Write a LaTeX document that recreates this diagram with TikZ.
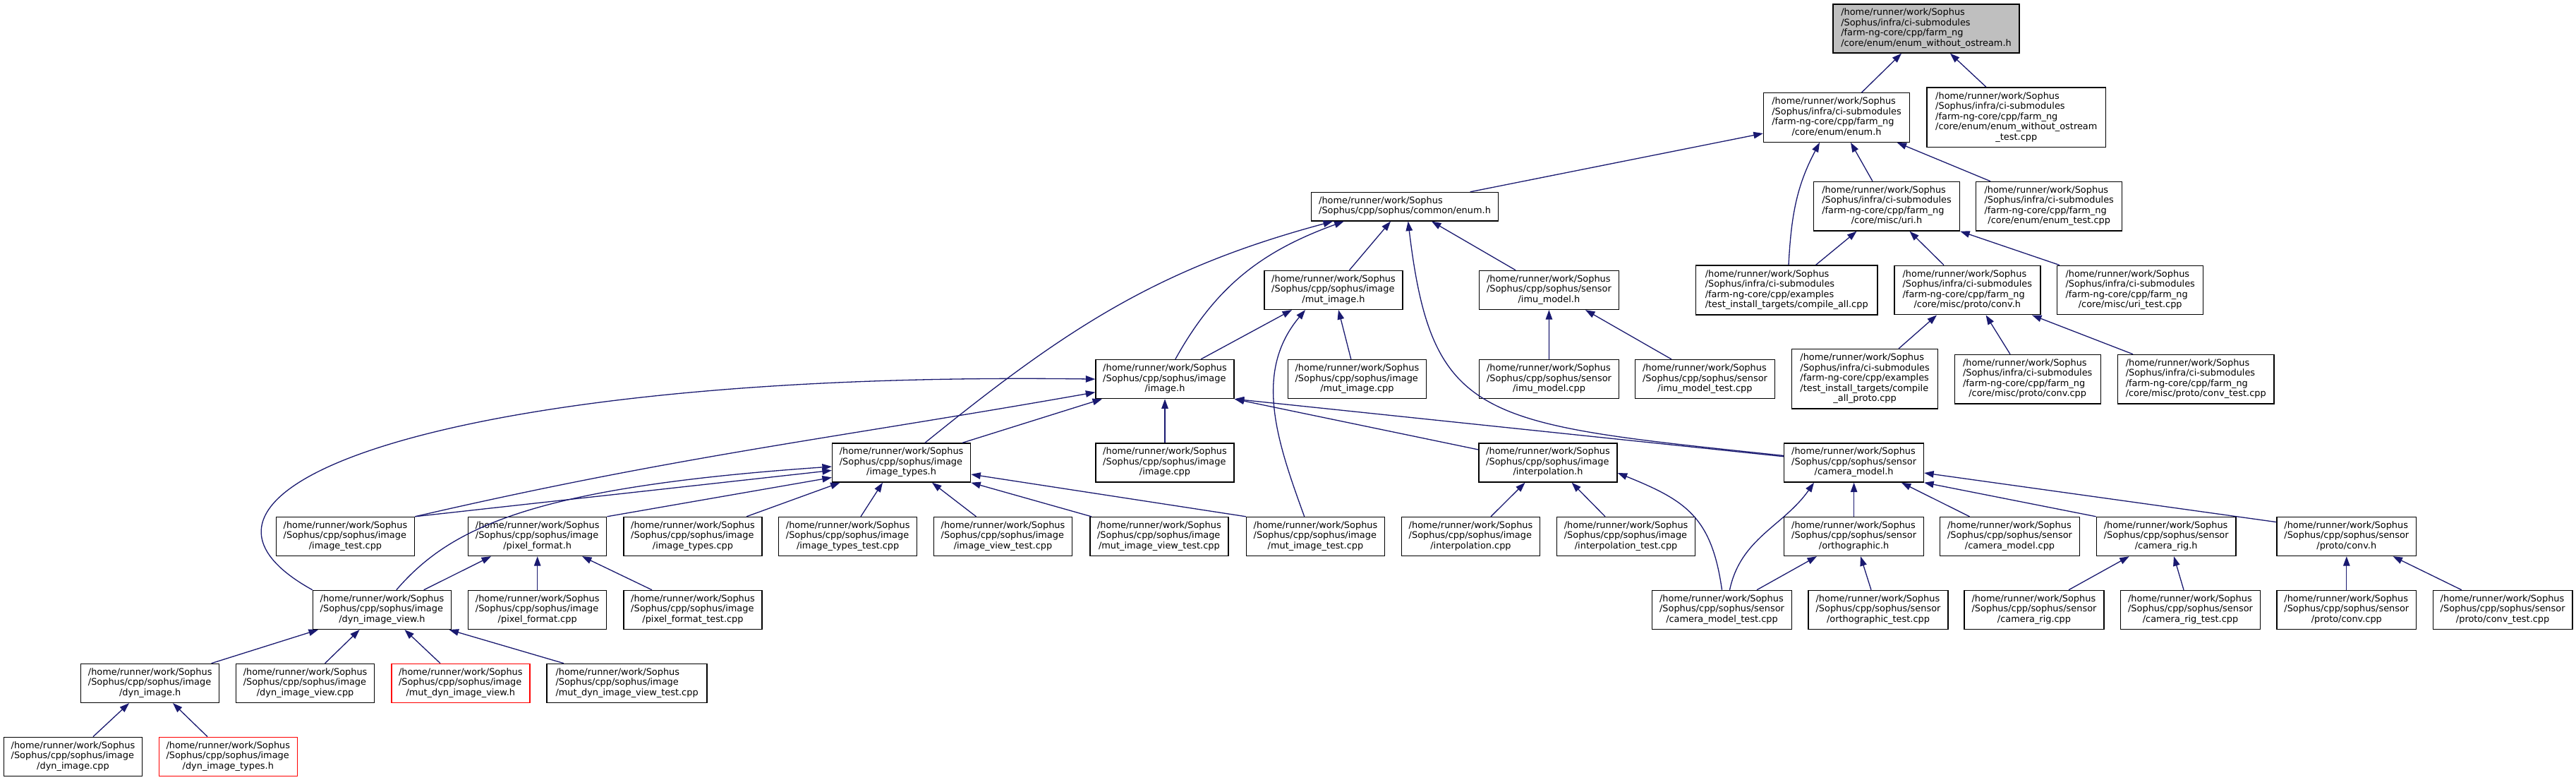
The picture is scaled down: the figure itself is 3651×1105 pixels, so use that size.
\documentclass[tikz,border=0pt]{standalone}
\usepackage{fontspec}
\setmainfont{DejaVu Sans}
\usepackage{xcolor}
\usepackage{tikz}
\usetikzlibrary{arrows.meta}
\definecolor{edgeblue}{HTML}{191970}
\definecolor{rootgray}{HTML}{BFBFBF}
\tikzstyle{edge} = [draw=edgeblue, line width=1.3pt, -{Triangle[length=13.5pt,width=9.5pt]}]
\newcommand{\filelabel}[2]{\begin{tabular}{@{}l@{}}#1\\\multicolumn{1}{@{}c@{}}{#2}\end{tabular}}
\newcommand{\imgfile}[1]{\filelabel{/home/runner/work/Sophus\\/Sophus/cpp/sophus/image}{#1}}
\newcommand{\senfile}[1]{\filelabel{/home/runner/work/Sophus\\/Sophus/cpp/sophus/sensor}{#1}}
\newcommand{\farmfile}[1]{\filelabel{/home/runner/work/Sophus\\/Sophus/infra/ci-submodules\\/farm-ng-core/cpp/farm\_ng}{#1}}

\begin{document}
\begin{tikzpicture}[x=1pt, y=-1pt,
    filebox/.style={rectangle, draw=black, line width=1.4pt, fill=white, inner sep=0pt,
                    font=\fontsize{12.9}{14.5}\selectfont},
    imgbox/.style={filebox, minimum width=196pt, minimum height=55pt},
    senbox/.style={filebox, minimum width=197.7pt, minimum height=55pt},
    farmbox/.style={filebox, minimum width=207pt, minimum height=69.5pt}
]
  \path[use as bounding box, fill=white] (0,0) rectangle (3651,1105);

  % --- farm-ng-core ---
  \node[filebox, fill=rootgray, minimum width=264pt, minimum height=69pt] (root) at (2730,40.5) {\farmfile{/core/enum/enum\_without\_ostream.h}};
  \node[farmbox] (enumh) at (2603,166.5) {\farmfile{/core/enum/enum.h}};
  \node[filebox, minimum width=253.5pt, minimum height=84.6pt] (ewottest) at (2857.8,166.3)
    {\filelabel{/home/runner/work/Sophus\\/Sophus/infra/ci-submodules\\/farm-ng-core/cpp/farm\_ng\\/core/enum/enum\_without\_ostream}{\_test.cpp}};
  \node[farmbox] (urih)     at (2674,292.2)   {\farmfile{/core/misc/uri.h}};
  \node[farmbox] (enumtest) at (2904.2,292.2) {\farmfile{/core/enum/enum\_test.cpp}};
  \node[filebox, minimum width=257.5pt, minimum height=70pt] (compileall) at (2532.2,411)
    {\filelabel{/home/runner/work/Sophus\\/Sophus/infra/ci-submodules\\/farm-ng-core/cpp/examples}{/test\_install\_targets/compile\_all.cpp}};
  \node[farmbox] (fconvh)   at (2788.3,411)   {\farmfile{/core/misc/proto/conv.h}};
  \node[farmbox] (uritest)  at (3019.2,411)   {\farmfile{/core/misc/uri\_test.cpp}};
  \node[filebox, minimum width=207pt, minimum height=84.4pt] (compileproto) at (2643.1,536.8)
    {\filelabel{/home/runner/work/Sophus\\/Sophus/infra/ci-submodules\\/farm-ng-core/cpp/examples\\/test\_install\_targets/compile}{\_all\_proto.cpp}};
  \node[farmbox] (fconvcpp) at (2873.7,537.2) {\farmfile{/core/misc/proto/conv.cpp}};
  \node[farmbox, minimum width=221.5pt] (fconvtest) at (3112.2,537.2) {\farmfile{/core/misc/proto/conv\_test.cpp}};

  % --- sophus common, mut_image, imu ---
  \node[filebox, minimum width=264.6pt, minimum height=40.4pt] (commonenum) at (1991,292.7)
    {\filelabel{/home/runner/work/Sophus}{/Sophus/cpp/sophus/common/enum.h}};
  \node[imgbox] (mutimageh)   at (1890,410.9)   {\imgfile{/mut\_image.h}};
  \node[senbox] (imuh)        at (2195.4,410.9) {\senfile{/imu\_model.h}};
  \node[imgbox] (imageh)      at (1651,537.1)   {\imgfile{/image.h}};
  \node[imgbox] (mutimagecpp) at (1923.4,537.1) {\imgfile{/mut\_image.cpp}};
  \node[senbox] (imucpp)      at (2195.5,537.1) {\senfile{/imu\_model.cpp}};
  \node[senbox] (imutest)     at (2416.5,537.1) {\senfile{/imu\_model\_test.cpp}};

  % --- image / sensor headers ---
  \node[imgbox] (imagetypesh)  at (1277.6,655.5) {\imgfile{/image\_types.h}};
  \node[imgbox] (imagecpp)     at (1651,655.5)   {\imgfile{/image.cpp}};
  \node[imgbox] (interph)      at (2194,655.5)   {\imgfile{/interpolation.h}};
  \node[senbox] (cameramodelh) at (2627.6,655.5) {\senfile{/camera\_model.h}};

  \node[imgbox] (imagetest)        at (489.5,760)  {\imgfile{/image\_test.cpp}};
  \node[imgbox] (pixelformath)     at (761.7,760)  {\imgfile{/pixel\_format.h}};
  \node[imgbox] (imagetypescpp)    at (982,760)    {\imgfile{/image\_types.cpp}};
  \node[imgbox] (imagetypestest)   at (1201.7,760) {\imgfile{/image\_types\_test.cpp}};
  \node[imgbox] (imageviewtest)    at (1421.5,760) {\imgfile{/image\_view\_test.cpp}};
  \node[imgbox] (mutimageviewtest) at (1642.9,760) {\imgfile{/mut\_image\_view\_test.cpp}};
  \node[imgbox] (mutimagetest)     at (1864.5,760) {\imgfile{/mut\_image\_test.cpp}};
  \node[imgbox] (interpcpp)        at (2084.5,760) {\imgfile{/interpolation.cpp}};
  \node[imgbox] (interptest)       at (2304.6,760) {\imgfile{/interpolation\_test.cpp}};
  \node[senbox] (orthoh)           at (2627.6,760) {\senfile{/orthographic.h}};
  \node[senbox] (cameramodelcpp)   at (2848.5,760) {\senfile{/camera\_model.cpp}};
  \node[senbox] (camerarigh)       at (3070.2,760) {\senfile{/camera\_rig.h}};
  \node[senbox] (sconvh)           at (3325.8,760) {\senfile{/proto/conv.h}};

  \node[imgbox] (dynviewh)        at (541.5,863.9)  {\imgfile{/dyn\_image\_view.h}};
  \node[imgbox] (pixelformatcpp)  at (761.7,863.9)  {\imgfile{/pixel\_format.cpp}};
  \node[imgbox] (pixelformattest) at (982,863.9)    {\imgfile{/pixel\_format\_test.cpp}};
  \node[senbox] (cameramodeltest) at (2440.5,863.9) {\senfile{/camera\_model\_test.cpp}};
  \node[senbox] (orthotest)       at (2662,863.9)   {\senfile{/orthographic\_test.cpp}};
  \node[senbox] (camerarigcpp)    at (2883,863.9)   {\senfile{/camera\_rig.cpp}};
  \node[senbox] (camerarigtest)   at (3104.5,863.9) {\senfile{/camera\_rig\_test.cpp}};
  \node[senbox] (sconvcpp)        at (3325.8,863.9) {\senfile{/proto/conv.cpp}};
  \node[senbox] (sconvtest)       at (3547.1,863.9) {\senfile{/proto/conv\_test.cpp}};

  \node[imgbox] (dynimageh)      at (212.7,967.9) {\imgfile{/dyn\_image.h}};
  \node[imgbox] (dynviewcpp)     at (432.6,967.9) {\imgfile{/dyn\_image\_view.cpp}};
  \node[imgbox, draw=red] (mutdynviewh) at (652.8,967.9) {\imgfile{/mut\_dyn\_image\_view.h}};
  \node[imgbox, minimum width=227pt] (mutdynviewtest) at (888.6,967.9) {\imgfile{/mut\_dyn\_image\_view\_test.cpp}};
  \node[imgbox] (dynimagecpp)    at (103.5,1071.8) {\imgfile{/dyn\_image.cpp}};
  \node[imgbox, draw=red] (dynimagetypesh) at (323.3,1071.8) {\imgfile{/dyn\_image\_types.h}};

  % --- edges into farm-ng-core ---
  \draw[edge] ([xshift=35.5pt]enumh.north) -- ([xshift=-35pt]root.south);
  \draw[edge] ([xshift=-42.8pt]ewottest.north) -- ([xshift=34pt]root.south);
  \draw[edge] ([xshift=92.7pt]commonenum.north) -- ([yshift=-22.5pt]enumh.west);
  \draw[edge] ([xshift=2.8pt]compileall.north) to[out=87,in=-118] ([xshift=-24pt]enumh.south);
  \draw[edge] ([xshift=-20pt]urih.north) -- ([xshift=20pt]enumh.south);
  \draw[edge] ([xshift=-83.2pt]enumtest.north) -- ([xshift=85.7pt]enumh.south);
  \draw[edge] ([xshift=41.4pt]compileall.north) -- ([xshift=-42.5pt]urih.south);
  \draw[edge] ([xshift=-33.3pt]fconvh.north) -- ([xshift=32.5pt]urih.south);
  \draw[edge] ([xshift=-100.2pt]uritest.north) -- (urih.south east);
  \draw[edge] ([xshift=47.9pt]compileproto.north) -- ([xshift=-43.3pt]fconvh.south);
  \draw[edge] ([xshift=-24.7pt]fconvcpp.north) -- ([xshift=26.3pt]fconvh.south);
  \draw[edge] ([xshift=-89.2pt]fconvtest.north) -- ([xshift=91.7pt]fconvh.south);

  % --- edges into common/enum.h ---
  \draw[edge] ([xshift=22.5pt]mutimageh.north) -- ([xshift=-20pt]commonenum.south);
  \draw[edge] ([xshift=-47.4pt]imuh.north) -- ([xshift=38pt]commonenum.south);
  \draw[edge] ([xshift=14.8pt]imageh.north) to[out=61,in=200] ([xshift=-86.3pt]commonenum.south);
  \draw[edge] ([xshift=33.4pt]imagetypesh.north) to[out=39,in=195] ([xshift=-102pt]commonenum.south);
  \draw[edge] ([yshift=10pt]cameramodelh.west) .. controls (2100,600) and (2030,600) .. ([xshift=4.7pt]commonenum.south);

  % --- mut_image.h, imu_model.h ---
  \draw[edge] ([xshift=51pt]imageh.north) -- ([xshift=-59pt]mutimageh.south);
  \draw[edge] ([xshift=-15.8pt]mutimagetest.north) to[out=110,in=-130] ([xshift=-40pt]mutimageh.south);
  \draw[edge] ([xshift=-8.6pt]mutimagecpp.north) -- ([xshift=7pt]mutimageh.south);
  \draw[edge] (imucpp.north) -- (imuh.south);
  \draw[edge] ([xshift=-47.5pt]imutest.north) -- ([xshift=51.6pt]imuh.south);

  % --- image.h ---
  \draw[edge] (dynviewh.north west) .. controls (180,690) and (650,525) .. (imageh.west);
  \draw[edge] (imagetest.north east) to[out=13,in=190] ([yshift=-18.6pt]imageh.west);
  \draw[edge] ([xshift=86.4pt]imagetypesh.north) -- ([xshift=-89pt]imageh.south);
  \draw[edge] (imagecpp.north) -- (imageh.south);
  \draw[edge] ([yshift=18.5pt]interph.west) -- (imageh.south east);
  \draw[edge] ([yshift=8.7pt]cameramodelh.west) -- (imageh.south east);

  % --- image_types.h ---
  \draw[edge] ([xshift=20.3pt]dynviewh.north) .. controls (640,745) and (760,690) .. ([yshift=-5.5pt]imagetypesh.west);
  \draw[edge] (imagetest.north east) -- ([yshift=-10.9pt]imagetypesh.west);
  \draw[edge] (pixelformath.north east) -- ([yshift=-20.9pt]imagetypesh.west);
  \draw[edge] ([xshift=76pt]imagetypescpp.north) -- ([xshift=-87pt]imagetypesh.south);
  \draw[edge] ([xshift=18.3pt]imagetypestest.north) -- ([xshift=-26.6pt]imagetypesh.south);
  \draw[edge] ([xshift=-38pt]imageviewtest.north) -- ([xshift=43.4pt]imagetypesh.south);
  \draw[edge] ([xshift=-96pt]mutimageviewtest.north) -- (imagetypesh.south east);
  \draw[edge] (mutimagetest.north west) -- ([yshift=-16.5pt]imagetypesh.east);

  % --- pixel_format.h, dyn_image_view.h, dyn_image.h ---
  \draw[edge] ([xshift=59.2pt]dynviewh.north) -- ([xshift=-65.7pt]pixelformath.south);
  \draw[edge] (pixelformatcpp.north) -- (pixelformath.south);
  \draw[edge] ([xshift=-58pt]pixelformattest.north) -- ([xshift=63.3pt]pixelformath.south);
  \draw[edge] ([xshift=86.9pt]dynimageh.north) -- ([xshift=-90.5pt]dynviewh.south);
  \draw[edge] ([xshift=28pt]dynviewcpp.north) -- ([xshift=-31.9pt]dynviewh.south);
  \draw[edge] ([xshift=-28.8pt]mutdynviewh.north) -- ([xshift=32pt]dynviewh.south);
  \draw[edge] ([xshift=-89.6pt]mutdynviewtest.north) -- ([xshift=95pt]dynviewh.south);
  \draw[edge] ([xshift=28.5pt]dynimagecpp.north) -- ([xshift=-29.7pt]dynimageh.south);
  \draw[edge] ([xshift=-29.3pt]dynimagetypesh.north) -- ([xshift=32.3pt]dynimageh.south);

  % --- interpolation.h ---
  \draw[edge] ([xshift=28.5pt]interpcpp.north) -- ([xshift=-32.5pt]interph.south);
  \draw[edge] ([xshift=-29.6pt]interptest.north) -- ([xshift=33.6pt]interph.south);
  \draw[edge] (cameramodeltest.north) to[out=98,in=-22,looseness=1.2] ([yshift=-14.5pt]interph.east);

  % --- camera_model.h and below ---
  \draw[edge] ([xshift=11pt]cameramodeltest.north) to[out=78,in=-125] ([xshift=-56.6pt]cameramodelh.south);
  \draw[edge] (orthoh.north) -- (cameramodelh.south);
  \draw[edge] ([xshift=-57pt]cameramodelcpp.north) -- ([xshift=67.3pt]cameramodelh.south);
  \draw[edge] (camerarigh.north west) -- (cameramodelh.south east);
  \draw[edge] ([yshift=20.4pt]sconvh.west) -- ([yshift=-14.5pt]cameramodelh.east);
  \draw[edge] ([xshift=49.5pt]cameramodeltest.north) -- ([xshift=-52.6pt]orthoh.south);
  \draw[edge] ([xshift=-10pt]orthotest.north) -- ([xshift=9.4pt]orthoh.south);
  \draw[edge] ([xshift=49pt]camerarigcpp.north) -- ([xshift=-52.5pt]camerarigh.south);
  \draw[edge] ([xshift=-9.5pt]camerarigtest.north) -- ([xshift=10.8pt]camerarigh.south);
  \draw[edge] (sconvcpp.north) -- (sconvh.south);
  \draw[edge] ([xshift=-58.3pt]sconvtest.north) -- ([xshift=65.7pt]sconvh.south);
\end{tikzpicture}
\end{document}
